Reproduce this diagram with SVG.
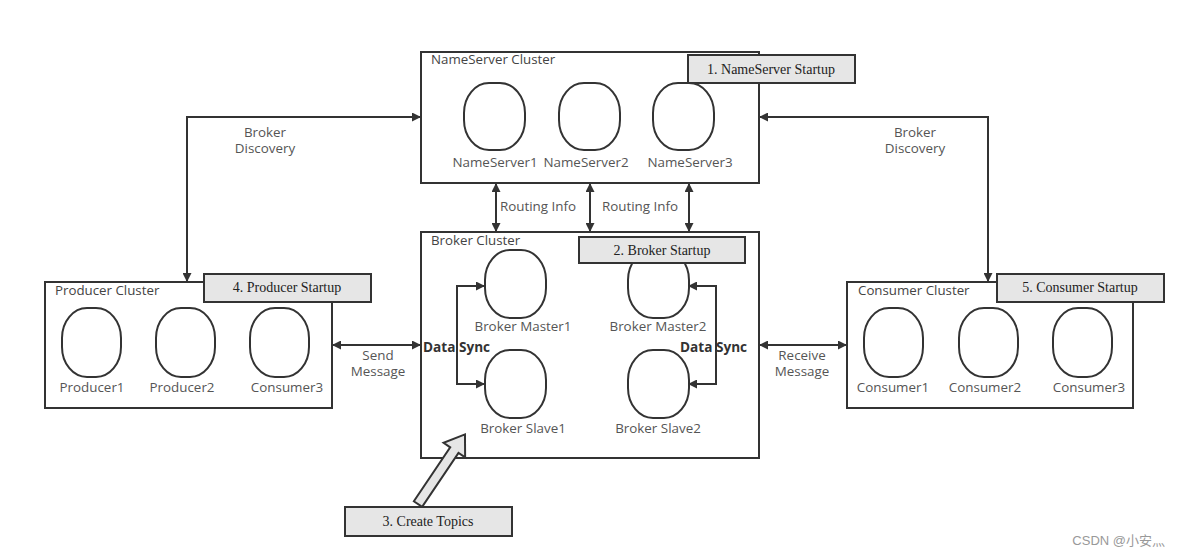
<svg xmlns="http://www.w3.org/2000/svg" width="1184" height="556" viewBox="0 0 1184 556">
<style>
.cl{fill:#fff;stroke:#333;stroke-width:2}
.nd{fill:#fff;stroke:#333;stroke-width:2}
.st{fill:#e6e6e6;stroke:#333;stroke-width:2}
.ln{fill:none;stroke:#333;stroke-width:2}
.t{font-family:"Open Sans","Liberation Sans",sans-serif;font-size:13.3px;fill:#444}
.tl{font-family:"Open Sans","Liberation Sans",sans-serif;font-size:13.4px;fill:#555;text-anchor:middle}
.ts{font-family:"Liberation Serif",serif;font-size:14px;fill:#222;text-anchor:middle}
.tb{font-family:"Open Sans","Liberation Sans",sans-serif;font-size:13.6px;font-weight:bold;fill:#333}
</style>
<defs>
<marker id="ah" viewBox="0 0 10 10" refX="10" refY="5" markerWidth="11" markerHeight="9" markerUnits="userSpaceOnUse" orient="auto-start-reverse">
<path d="M0,0 L10,5 L0,10 z" fill="#333"/>
</marker>
</defs>
<rect width="1184" height="556" fill="#fff"/>

<g id="connectors">
<path class="ln" d="M421,117 H187 V282" marker-start="url(#ah)" marker-end="url(#ah)"/>
<path class="ln" d="M759,117 H988 V282" marker-start="url(#ah)" marker-end="url(#ah)"/>
<path class="ln" d="M496,183 V232" marker-start="url(#ah)" marker-end="url(#ah)"/>
<path class="ln" d="M590,183 V232" marker-start="url(#ah)" marker-end="url(#ah)"/>
<path class="ln" d="M689,183 V232" marker-start="url(#ah)" marker-end="url(#ah)"/>
<path class="ln" d="M332,345 H421" marker-start="url(#ah)" marker-end="url(#ah)"/>
<path class="ln" d="M759,345 H847" marker-start="url(#ah)" marker-end="url(#ah)"/>
<text class="tl" x="265" y="137">Broker</text>
<text class="tl" x="265" y="153">Discovery</text>
<text class="tl" x="915" y="137">Broker</text>
<text class="tl" x="915" y="153">Discovery</text>
<text class="tl" x="538" y="211">Routing Info</text>
<text class="tl" x="640" y="211">Routing Info</text>
<text class="tl" x="378" y="360">Send</text>
<text class="tl" x="378" y="376">Message</text>
<text class="tl" x="802" y="360">Receive</text>
<text class="tl" x="802" y="376">Message</text>
</g>

<g id="nameserver-cluster">
<rect class="cl" x="421" y="52" width="338" height="131"/>
<text class="t" x="431" y="64">NameServer Cluster</text>
<rect class="nd" x="464" y="83" width="61" height="67" rx="25" ry="30"/>
<rect class="nd" x="559" y="83" width="61" height="67" rx="25" ry="30"/>
<rect class="nd" x="653" y="83" width="61" height="67" rx="25" ry="30"/>
<text class="tl" x="495" y="167">NameServer1</text>
<text class="tl" x="586" y="167">NameServer2</text>
<text class="tl" x="690" y="167">NameServer3</text>
</g>
<g id="nameserver-startup">
<rect class="st" x="688" y="55" width="167" height="28"/>
<text class="ts" x="771" y="74">1. NameServer Startup</text>
</g>

<g id="broker-cluster">
<rect class="cl" x="421" y="232" width="338" height="226"/>
<text class="t" x="431" y="245">Broker Cluster</text>
<rect class="nd" x="485" y="250" width="61" height="68" rx="25" ry="30"/>
<rect class="nd" x="628" y="250" width="61" height="68" rx="25" ry="30"/>
<rect class="nd" x="485" y="350" width="61" height="68" rx="25" ry="30"/>
<rect class="nd" x="628" y="350" width="61" height="68" rx="25" ry="30"/>
<text class="tl" x="523" y="331">Broker Master1</text>
<text class="tl" x="658" y="331">Broker Master2</text>
<text class="tl" x="523" y="433">Broker Slave1</text>
<text class="tl" x="658" y="433">Broker Slave2</text>
<path class="ln" d="M485,286 H457 V384 H485" marker-start="url(#ah)" marker-end="url(#ah)"/>
<path class="ln" d="M688,286 H716 V384 H688" marker-start="url(#ah)" marker-end="url(#ah)"/>
<text class="tb" x="423" y="352">Data Sync</text>
<text class="tb" x="680" y="352">Data Sync</text>
</g>
<g id="broker-startup">
<rect class="st" x="579" y="237" width="166" height="26"/>
<text class="ts" x="662" y="255">2. Broker Startup</text>
</g>

<g id="producer-cluster">
<rect class="cl" x="45" y="282" width="287" height="126"/>
<text class="t" x="55" y="295">Producer Cluster</text>
<rect class="nd" x="62" y="308" width="59" height="69" rx="25" ry="30"/>
<rect class="nd" x="156" y="308" width="59" height="69" rx="25" ry="30"/>
<rect class="nd" x="250" y="308" width="59" height="69" rx="25" ry="30"/>
<text class="tl" x="92" y="392">Producer1</text>
<text class="tl" x="182" y="392">Producer2</text>
<text class="tl" x="287" y="392">Consumer3</text>
</g>
<g id="producer-startup">
<rect class="st" x="204" y="274" width="167" height="28"/>
<text class="ts" x="287" y="292">4. Producer Startup</text>
</g>

<g id="consumer-cluster">
<rect class="cl" x="847" y="282" width="286" height="126"/>
<text class="t" x="858" y="295">Consumer Cluster</text>
<rect class="nd" x="864" y="308" width="59" height="69" rx="25" ry="30"/>
<rect class="nd" x="959" y="308" width="59" height="69" rx="25" ry="30"/>
<rect class="nd" x="1053" y="308" width="59" height="69" rx="25" ry="30"/>
<text class="tl" x="893" y="392">Consumer1</text>
<text class="tl" x="985" y="392">Consumer2</text>
<text class="tl" x="1089" y="392">Consumer3</text>
</g>
<g id="consumer-startup">
<rect class="st" x="997" y="274" width="167" height="28"/>
<text class="ts" x="1080" y="292">5. Consumer Startup</text>
</g>

<g id="create-topics">
<polygon class="st" transform="translate(418,504) rotate(-56)" points="0,-5 65,-5 65,-13 84,0 65,13 65,5 0,5"/>
<rect class="st" x="345" y="507" width="167" height="29"/>
<text class="ts" x="428" y="526">3. Create Topics</text>
</g>

<text x="1165" y="545" text-anchor="end" style="font-family:'Liberation Sans','Noto Sans CJK SC',sans-serif;font-size:13px;fill:#999">CSDN @小安灬</text>
</svg>
